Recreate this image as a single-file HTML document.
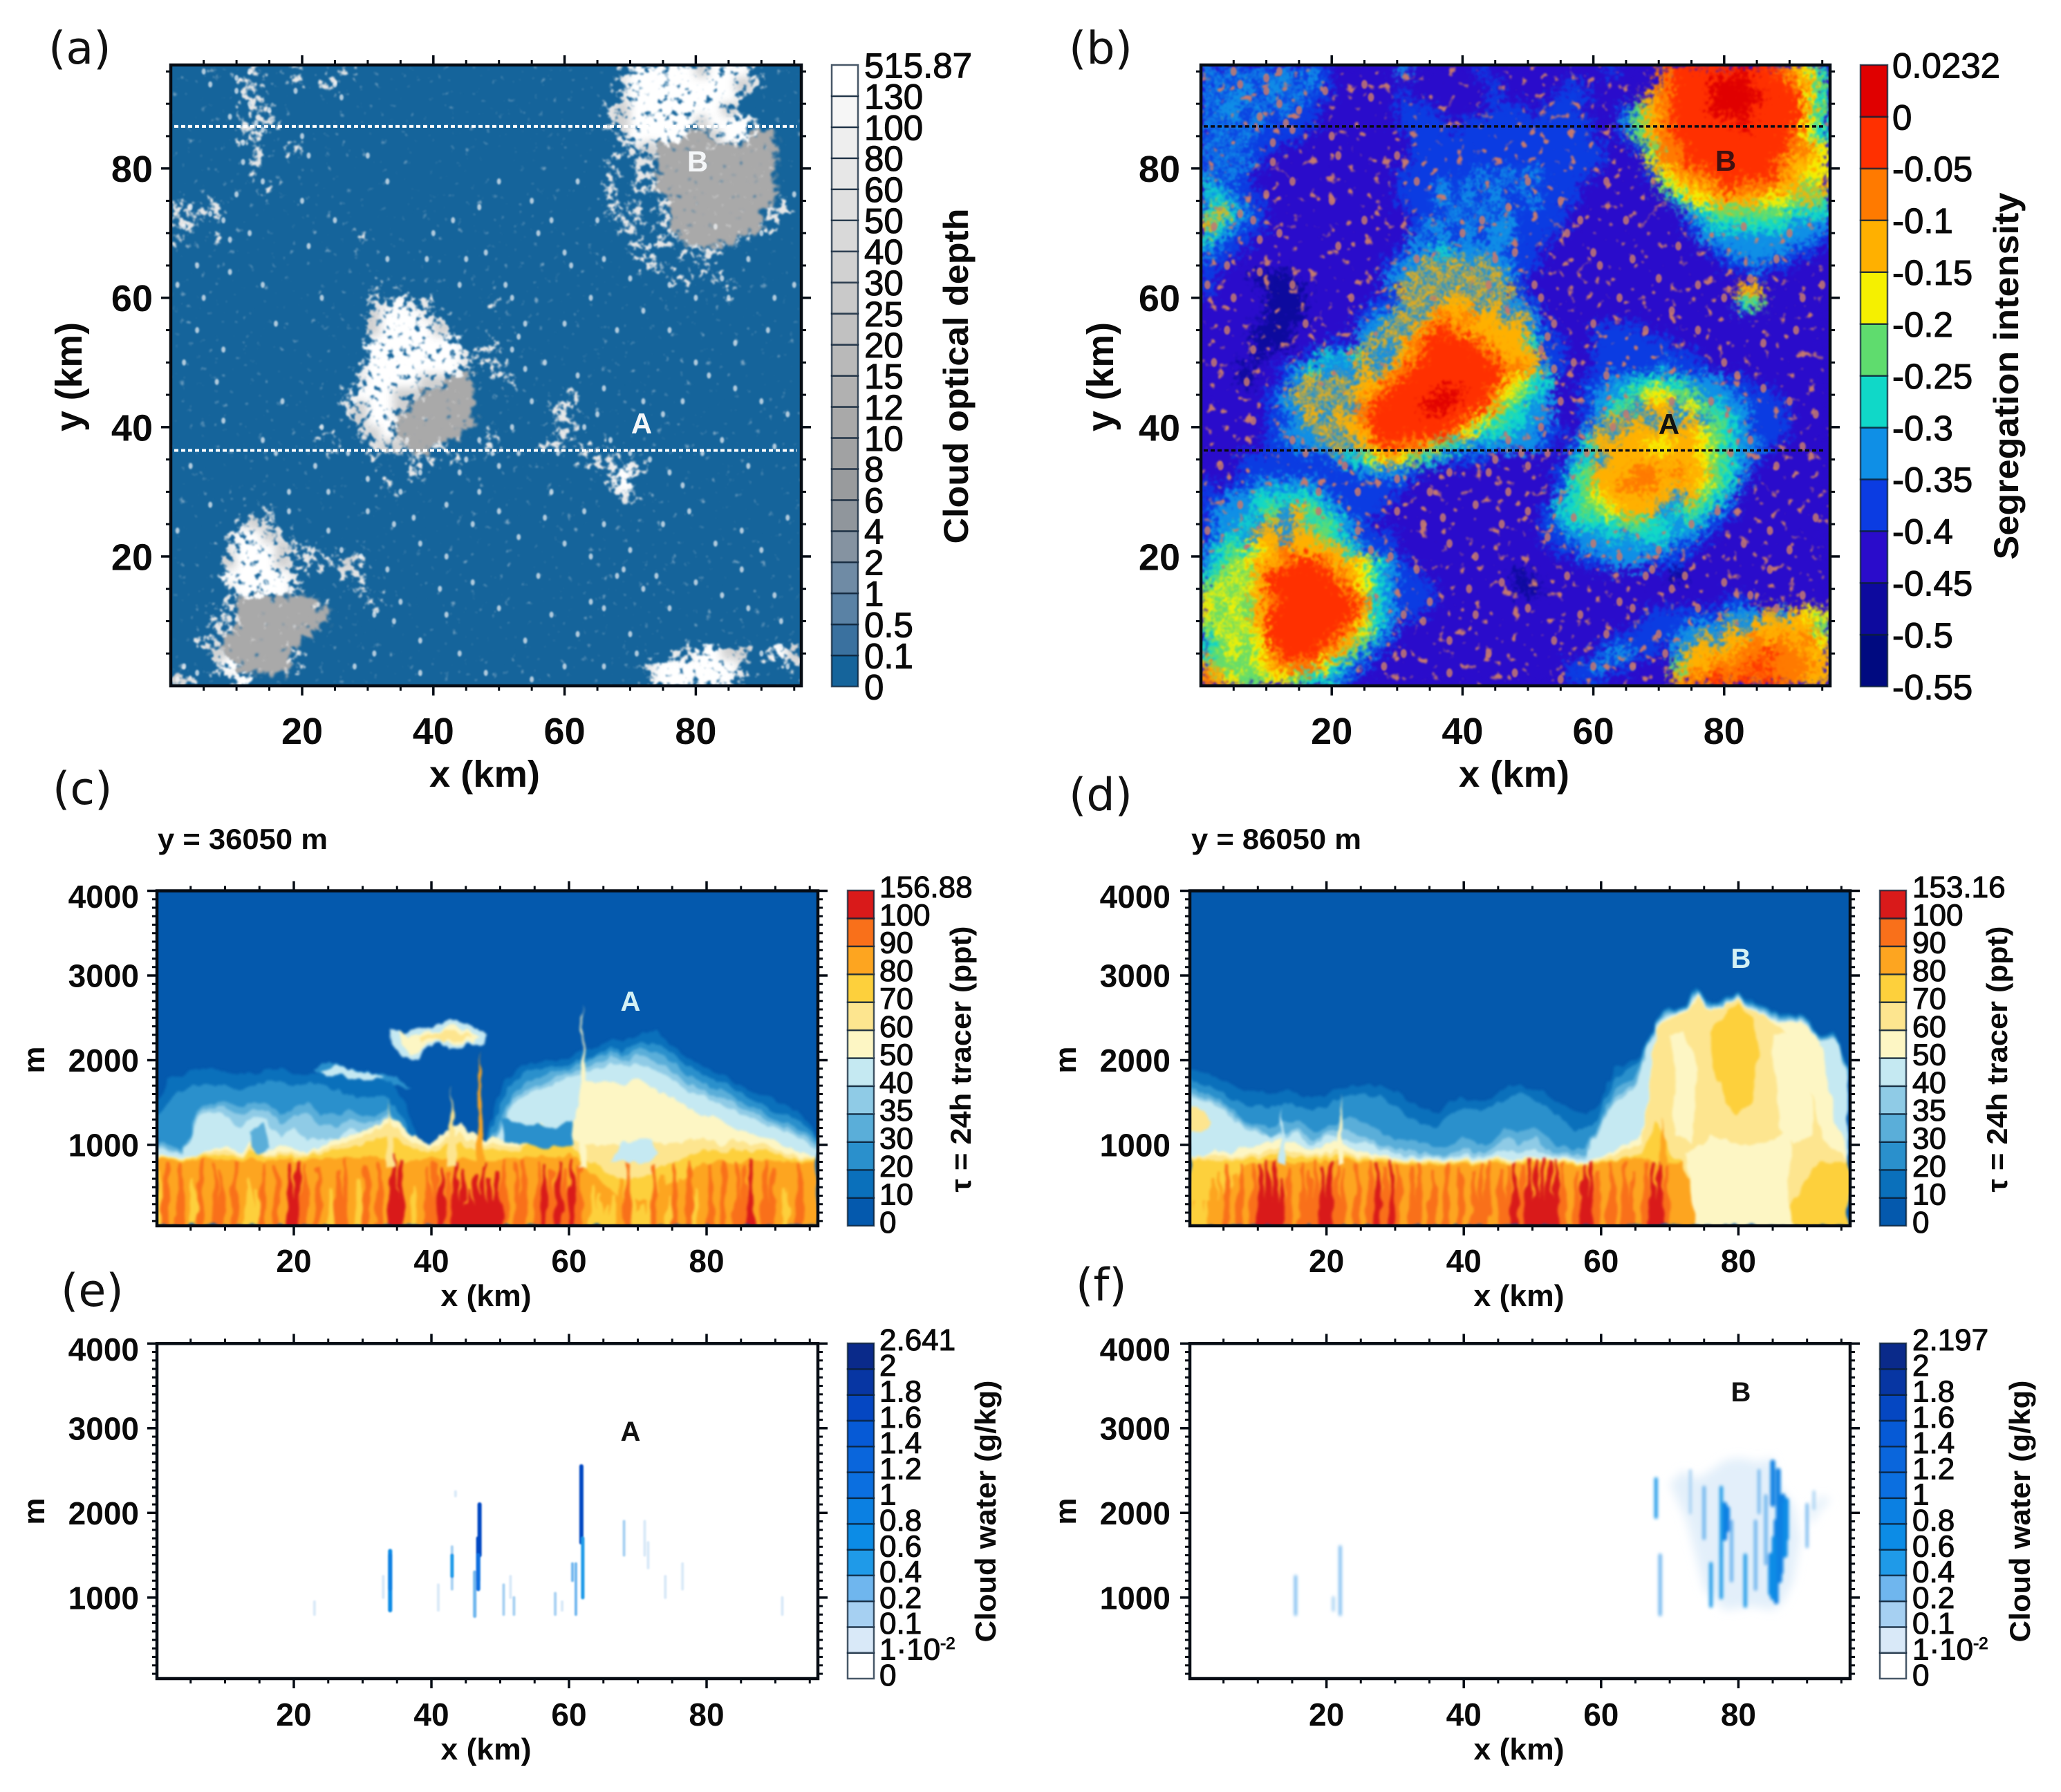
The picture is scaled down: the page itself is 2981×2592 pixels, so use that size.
<!DOCTYPE html>
<html lang="en">
<head>
<meta charset="utf-8">
<title>Cloud and tracer fields</title>
<style>
html,body{margin:0;padding:0;background:#fff;}
svg{display:block;}
text{font-family:"Liberation Sans",sans-serif;fill:#0a0a0a;}
.pl{font-family:"DejaVu Sans",sans-serif;font-size:65px;fill:#111;}
.ax{font-weight:bold;}
</style>
</head>
<body>
<svg id="fig" xmlns="http://www.w3.org/2000/svg" width="2981" height="2592" viewBox="0 0 2981 2592">
<defs>
<filter id="speckleA" filterUnits="userSpaceOnUse" x="200" y="50" width="1010" height="990" color-interpolation-filters="sRGB">
  <feGaussianBlur in="SourceGraphic" stdDeviation="6" result="b"/>
  <feTurbulence type="fractalNoise" baseFrequency="0.1" numOctaves="3" seed="7" result="n"/>
  <feColorMatrix in="n" type="matrix" values="0 0 0 0 0 0 0 0 0 0 0 0 0 0 0 1 0 0 0 0" result="na"/>
  <feComposite in="b" in2="na" operator="arithmetic" k1="0" k2="0.5" k3="1" k4="-0.74" result="m"/>
  <feComponentTransfer in="m" result="mask"><feFuncA type="linear" slope="6"/></feComponentTransfer>
  <feComponentTransfer in="b" result="full"><feFuncA type="linear" slope="6"/></feComponentTransfer>
  <feComposite in="full" in2="mask" operator="in" result="c"/>
  <feGaussianBlur in="c" stdDeviation="1.3"/>
</filter>
<filter id="solidA" filterUnits="userSpaceOnUse" x="200" y="50" width="1010" height="990" color-interpolation-filters="sRGB">
  <feGaussianBlur in="SourceGraphic" stdDeviation="6" result="b"/>
  <feTurbulence type="fractalNoise" baseFrequency="0.09" numOctaves="3" seed="11" result="n"/>
  <feColorMatrix in="n" type="matrix" values="0 0 0 0 0 0 0 0 0 0 0 0 0 0 0 1 0 0 0 0" result="na"/>
  <feComposite in="b" in2="na" operator="arithmetic" k1="0" k2="0.62" k3="1" k4="-0.74" result="m"/>
  <feComponentTransfer in="m" result="mask"><feFuncA type="linear" slope="6"/></feComponentTransfer>
  <feComponentTransfer in="b" result="full"><feFuncA type="linear" slope="6"/></feComponentTransfer>
  <feComposite in="full" in2="mask" operator="in" result="c"/>
  <feGaussianBlur in="c" stdDeviation="1.5"/>
</filter>
<filter id="speckleB" filterUnits="userSpaceOnUse" x="1690" y="50" width="1010" height="990" color-interpolation-filters="sRGB">
  <feGaussianBlur in="SourceGraphic" stdDeviation="6" result="b"/>
  <feTurbulence type="fractalNoise" baseFrequency="0.075" numOctaves="2" seed="21" result="n"/>
  <feColorMatrix in="n" type="matrix" values="0 0 0 0 0 0 0 0 0 0 0 0 0 0 0 1 0 0 0 0" result="na"/>
  <feComposite in="b" in2="na" operator="arithmetic" k1="0" k2="0.45" k3="1" k4="-0.74" result="m"/>
  <feComponentTransfer in="m" result="mask"><feFuncA type="linear" slope="8"/></feComponentTransfer>
  <feComponentTransfer in="b" result="full"><feFuncA type="linear" slope="6"/></feComponentTransfer>
  <feComposite in="full" in2="mask" operator="in" result="c"/>
  <feGaussianBlur in="c" stdDeviation="1.2"/>
</filter>
<filter id="roughB" filterUnits="userSpaceOnUse" x="1690" y="50" width="1010" height="990" color-interpolation-filters="sRGB"><feGaussianBlur in="SourceGraphic" stdDeviation="5" result="b"/><feTurbulence type="fractalNoise" baseFrequency="0.14" numOctaves="3" seed="9" result="t"/><feDisplacementMap in="b" in2="t" scale="46" xChannelSelector="R" yChannelSelector="G" result="d"/><feGaussianBlur in="d" stdDeviation="1.2"/></filter>
<filter id="roughC" filterUnits="userSpaceOnUse" x="150" y="1240" width="2600" height="580" color-interpolation-filters="sRGB"><feTurbulence type="fractalNoise" baseFrequency="0.07 0.03" numOctaves="2" seed="3" result="t"/><feDisplacementMap in="SourceGraphic" in2="t" scale="14" xChannelSelector="R" yChannelSelector="G" result="d"/><feGaussianBlur in="d" stdDeviation="1.8"/></filter>
<filter id="soft"><feGaussianBlur stdDeviation="1.1"/></filter>
<filter id="softF" filterUnits="userSpaceOnUse" x="1700" y="1900" width="1000" height="560"><feGaussianBlur stdDeviation="2.4"/></filter>
<filter id="softEnv" filterUnits="userSpaceOnUse" x="1700" y="1900" width="1000" height="560"><feGaussianBlur stdDeviation="7"/></filter>
<clipPath id="clipA"><rect x="247" y="94" width="912" height="898"/></clipPath>
<clipPath id="clipB"><rect x="1737" y="94" width="910" height="898"/></clipPath>
<clipPath id="clipC"><rect x="227" y="1288" width="956" height="485"/></clipPath>
<clipPath id="clipD"><rect x="1721" y="1288" width="955" height="485"/></clipPath>
<clipPath id="clipE"><rect x="227" y="1943" width="956" height="485"/></clipPath>
<clipPath id="clipF"><rect x="1721" y="1943" width="955" height="485"/></clipPath>
</defs>
<rect x="0" y="0" width="2981" height="2592" fill="#fff"/>

<g id="panelA"></g>
<g id="panelB"></g>
<g id="panelC"></g>
<g id="panelD"></g>
<g id="panelE"></g>
<g id="panelF"></g>

<text class="pl" x="70" y="92">(a)</text>
<text class="pl" x="1546" y="92">(b)</text>
<text class="pl" x="76" y="1163">(c)</text>
<text class="pl" x="1546" y="1172">(d)</text>
<text class="pl" x="88" y="1889">(e)</text>
<text class="pl" x="1556" y="1881">(f)</text>

<text class="ax" x="228" y="1228" font-size="42" textLength="246" lengthAdjust="spacingAndGlyphs">y = 36050 m</text>
<text class="ax" x="1723" y="1228" font-size="42" textLength="246" lengthAdjust="spacingAndGlyphs">y = 86050 m</text>

<text class="ax" x="701" y="1138" font-size="54" text-anchor="middle" textLength="160" lengthAdjust="spacingAndGlyphs">x (km)</text>
<text class="ax" x="2190" y="1138" font-size="54" text-anchor="middle" textLength="160" lengthAdjust="spacingAndGlyphs">x (km)</text>
<text class="ax" x="703" y="1889" font-size="44" text-anchor="middle" textLength="131" lengthAdjust="spacingAndGlyphs">x (km)</text>
<text class="ax" x="2197" y="1889" font-size="44" text-anchor="middle" textLength="131" lengthAdjust="spacingAndGlyphs">x (km)</text>
<text class="ax" x="703" y="2545" font-size="44" text-anchor="middle" textLength="131" lengthAdjust="spacingAndGlyphs">x (km)</text>
<text class="ax" x="2197" y="2545" font-size="44" text-anchor="middle" textLength="131" lengthAdjust="spacingAndGlyphs">x (km)</text>

<text class="ax" transform="translate(118,545) rotate(-90)" font-size="54" text-anchor="middle" textLength="158" lengthAdjust="spacingAndGlyphs">y (km)</text>
<text class="ax" transform="translate(1610,545) rotate(-90)" font-size="54" text-anchor="middle" textLength="158" lengthAdjust="spacingAndGlyphs">y (km)</text>
<text class="ax" transform="translate(64,1533) rotate(-90)" font-size="44" text-anchor="middle">m</text>
<text class="ax" transform="translate(1556,1533) rotate(-90)" font-size="44" text-anchor="middle">m</text>
<text class="ax" transform="translate(64,2186) rotate(-90)" font-size="44" text-anchor="middle">m</text>
<text class="ax" transform="translate(1556,2186) rotate(-90)" font-size="44" text-anchor="middle">m</text>

<text class="ax" transform="translate(1400,544) rotate(-90)" font-size="50" text-anchor="middle" textLength="485" lengthAdjust="spacingAndGlyphs">Cloud optical depth</text>
<text class="ax" transform="translate(2919,544) rotate(-90)" font-size="50" text-anchor="middle" textLength="531" lengthAdjust="spacingAndGlyphs">Segregation intensity</text>
<text class="ax" transform="translate(1404,1532) rotate(-90)" font-size="42" text-anchor="middle" textLength="385" lengthAdjust="spacingAndGlyphs">τ = 24h tracer (ppt)</text>
<text class="ax" transform="translate(2903,1532) rotate(-90)" font-size="42" text-anchor="middle" textLength="385" lengthAdjust="spacingAndGlyphs">τ = 24h tracer (ppt)</text>
<text class="ax" transform="translate(1440,2186) rotate(-90)" font-size="42" text-anchor="middle" textLength="379" lengthAdjust="spacingAndGlyphs">Cloud water (g/kg)</text>
<text class="ax" transform="translate(2936,2186) rotate(-90)" font-size="42" text-anchor="middle" textLength="379" lengthAdjust="spacingAndGlyphs">Cloud water (g/kg)</text>

<g id="overlay">
<text class="ax" x="928" y="627" font-size="42" text-anchor="middle" style="fill:#f4f6f8">A</text>
<text class="ax" x="1009" y="248" font-size="42" text-anchor="middle" style="fill:#f4f6f8">B</text>
<text class="ax" x="2414" y="628" font-size="42" text-anchor="middle" style="fill:#111">A</text>
<text class="ax" x="2496" y="247" font-size="42" text-anchor="middle" style="fill:#401010">B</text>
<text class="ax" x="912" y="1462" font-size="40" text-anchor="middle" style="fill:#d4f1f4">A</text>
<text class="ax" x="2518" y="1400" font-size="40" text-anchor="middle" style="fill:#d4f1f4">B</text>
<text class="ax" x="912" y="2084" font-size="40" text-anchor="middle" style="fill:#111">A</text>
<text class="ax" x="2518" y="2027" font-size="40" text-anchor="middle" style="fill:#111">B</text>
</g>
</svg>

<script>
// ---------- colour scales and tick labels ----------
const tauLevels=[0,0.1,0.5,1,2,4,6,8,10,12,15,20,25,30,40,50,60,80,100,130];
const tauColors=['#15649b','#3a719f','#5a82a5','#6f8ba5','#8593a1','#90969c','#999b9d','#a1a2a3','#a9a9a9','#b1b1b1','#b9b9b9','#c1c1c1','#c9c9c9','#d1d1d1','#d9d9d9','#e0e0e0','#e7e7e7','#eeeeee','#f6f6f6','#ffffff'];
const tauLabels=['0','0.1','0.5','1','2','4','6','8','10','12','15','20','25','30','40','50','60','80','100','130','515.87'];
const segColors=['#000a80','#0d0a9e','#2a0ccb','#0b3ce2','#0f8fe6','#10d8c8','#5fdc6e','#f5f000','#ffb000','#ff7a00','#ff3000','#e00000'];
const segLabels=['-0.55','-0.5','-0.45','-0.4','-0.35','-0.3','-0.25','-0.2','-0.15','-0.1','-0.05','0','0.0232'];
const tracerLevels=[0,10,20,30,35,40,50,60,70,80,90,100];
const tracerColors=['#0459ad','#0a70bb','#2a90cc','#5aaed9','#8fcbe6','#c5e9f2','#fdf6c4','#fde58f','#fdd03c','#fda520','#f9701a','#d91a1a'];
const tracerLabelsC=['0','10','20','30','35','40','50','60','70','80','90','100','156.88'];
const tracerLabelsD=['0','10','20','30','35','40','50','60','70','80','90','100','153.16'];
const waterLevels=[0,0.01,0.1,0.2,0.4,0.6,0.8,1,1.2,1.4,1.6,1.8,2];
const waterColors=['#ffffff','#d9e9f8','#a6d0f2','#6fb6ee','#1f9ae8','#0c8ce6','#0b80e2','#0b6fe0','#0a66dc','#065ad6','#0547c2','#0736a3','#0a2a8a'];
const waterLabelsE=['0','1·10','0.1','0.2','0.4','0.6','0.8','1','1.2','1.4','1.6','1.8','2','2.641'];
const waterLabelsF=['0','1·10','0.1','0.2','0.4','0.6','0.8','1','1.2','1.4','1.6','1.8','2','2.197'];
const kmTicks=[20,40,60,80];
const heightTicks=[1000,2000,3000,4000];
const sliceLatitudes=[36.4,86.5];

// ---------- panel (a): optical depth class per 2 km cell, top row y=95 km ----------
// class 0 clear, 1 scattered cumulus, 2 grey anvil, 3 bright, 4 brightest
const cloudClassTau=[0,60,10,30,130];
const cloudRows=[
"000100100100|010000000000|000000000014|444434441000",
"000001100101|100000000000|000000000014|444444431000",
"000001100000|000000000000|000000000014|444444410000",
"000000110000|000000000000|000000000134|444444300000",
"000001110000|000000000000|000000000134|444434441000",
"000001100000|000000000000|000000000014|444223442200",
"000000100100|000000000000|000000000011|322222222200",
"000000100000|000000000000|000000000101|122222222200",
"000000100000|000000000000|000000000101|122222222200",
"000000010000|000000000000|000000000101|122222222200",
"100100000000|000000000000|000000000101|012222222210",
"111100000000|000000000000|000000000111|012222222110",
"110000000000|000000000000|000000000011|012222222100",
"100100000000|001000000000|000000000001|011222210000",
"000000000000|000000000000|000000000001|100111000000",
"000000000000|000000000000|000000000000|110010000000",
"000000000000|000000000000|000000000000|001101000000",
"000000000000|000101000000|000000000000|000000100000",
"000000000000|000114110000|100000000000|000000000000",
"000000000000|000344411000|000000000000|000000000000",
"000000000000|000344443000|000000000000|000000000000",
"000000000000|000444444400|100000000000|000000000000",
"000000000000|000444444411|100000000000|000000000000",
"000000000000|001444444410|110000000000|000000000000",
"000000000000|001444433220|010000000000|000000000000",
"000000000000|014443322220|000000100000|000000000000",
"000000000000|013443222220|000001100000|000000000000",
"000000000000|003442222220|000001100000|000000000000",
"000000000001|001342222200|100001100000|000000000000",
"000000000000|100133221000|100011010100|000000000000",
"000000000000|000100110100|000000011101|000000000000",
"000000000000|000000100000|000000000141|000000000000",
"000000000000|000010000000|000000000140|000000000000",
"000000000000|000000000000|000000000011|000000000000",
"000000010000|000000000000|000000000000|000000000000",
"000001310000|000000000000|000000000000|000000000000",
"000014431000|000000000000|000000000000|000000000000",
"000014443110|000000000000|000000000000|000000000000",
"000034443111|131000000000|000000000000|000000000000",
"000044444100|011000000000|000000000000|000000000000",
"000014444100|001000000000|000000000000|000000000000",
"000012222221|000100000000|000000000000|000000000000",
"000112222222|000000000000|000000000000|000000000000",
"000112222220|000000000000|000000000000|000000000000",
"001122222200|000000000000|000000000000|000000000000",
"000322222100|000000000000|000000000000|001144330143",
"000142222100|000000000000|000000000000|144444410001",
"310014000000|000000000000|000000000000|144444410000"];

// small cumulus positions in km, shared by panels (a) and (b)
const speckX=[6,10,12,13,11,10,15,19,25,26,12,5,9,14,20,21,11,14,10,3,6,2,8,12,9,21,20,4,1,5,14,23,16,8,2,25,30,33,40,39,33,44,48,52,51,55,50,58,62,56,60,65,66,70,73,76,80,84,85,88,90,92,95,91,86,80,76,72,68,64,60,57,62,66,65,63,67,70,73,76,78,81,84,88,92,94,90,86,75,72,55,52,53,50,47,44,42,38,35,30,27,24,22,18,18,14,8,3,6,1,30,34,38,42,46,50,53,56,60,63,58,66,70,75,79,83,87,90,94,92,88,84,80,76,72,66,62,58,54,50,46,42,38,35,33,31,28,38,44,48,55,60,66,70,2,1,4,93,90,94,31,34,29,26,47,49,45,52,54,53,7,17,23,28,36,43,47,54,59,64,69,74,78,82,87,93,4,9,16,24,41,57,61,68,83,95,37,45,64,71];
const speckY=[93,92,90,87,84,94,89,92,93,91,95,95,88,86,85,82,81,78,76,74,73,71,72,70,69,68,75,65,62,60,62,60,56,52,50,72,82,78,70,66,66,62,67,60,62,75,78,72,78,70,67,72,66,63,68,62,60,63,60,66,70,60,62,55,53,50,55,58,55,60,56,50,48,46,42,40,38,36,35,33,31,36,38,34,37,42,44,46,42,44,44,40,36,34,30,33,28,33,30,32,36,30,34,30,27,38,41,34,28,24,27,25,22,20,25,27,23,17,22,27,30,25,21,25,27,22,18,21,26,14,12,14,16,12,15,12,8,11,7,12,16,11,7,13,18,5,3,2,5,2,1,3,3,8,3,1,2,6,5,3,11,10,20,21,38,36,35,52,49,54,47,44,40,44,38,72,74,56,36,20,18,17,44,48,24,10,55,64,36,24,15,26,65,17,71,76,26,66,13,5];

// ---------- panel (b): segregation class (hex) per 2 km cell, top row y=95 km ----------
const segRows=[
"434343434322|222422222322|222222232229|aaaaabaa9875",
"343434434322|222222222232|222232222229|aaabbbaaa986",
"434434343322|222322222232|222333222289|aaabbbbaaa75",
"344343433222|222333222233|323332223689|aaabbbaaaa86",
"434343333222|222333323333|333333224689|aaaaabaaaa75",
"343433332222|222233333333|333333223689|aaaaaaaaa975",
"434333222222|222233333333|333333322369|9aaaaaaaa997",
"343432222222|222233333333|333333322279|9aaaaaaa9887",
"434322222222|222333333434|343333222237|899aaaaa9877",
"543322222222|222333434343|433332222226|7889a9998868",
"454332222222|222333434343|343332222222|577888877686",
"585432222222|222233343434|333322222222|245666666555",
"854332222222|222234434344|333322222222|234555555444",
"543322222222|222243434344|333222222222|224444444443",
"433222222222|222344544443|332222222222|222344444332",
"332222222222|223448484844|332222222222|222233433222",
"322211122222|224484848484|322222222222|222222322222",
"322221112222|223848484848|322222222222|222228822222",
"222221112222|233484888484|432222222222|222225622222",
"222221112222|344848989884|842222222222|222222222222",
"222211122222|448489a98888|843222333322|222222222222",
"222211122232|48489aaaa988|853322333333|222222222222",
"222212223545|84489aaaaa98|883322333333|332222222222",
"222122345444|8489aaaaaaa9|984322333334|333222222222",
"222122348484|889aaaaaaaa8|755223344555|544433222222",
"222223484848|89aaaabbaa97|654223445677|664443332222",
"222223448484|9aaaabbaaa86|544223456488|476544333222",
"222223348488|9aaaaaaa9765|544223484848|484654333222",
"222223444848|8aaaaaa97555|443324848888|887654333222",
"222223344484|89a998654444|443235888877|887654432222",
"222333333345|578765433322|222245488888|887654322222",
"222333333333|444432222222|222356888998|988654222222",
"323344444333|333322222222|222356889998|887653222222",
"334455555433|333222222222|222456788888|486542222222",
"344456486543|332222222222|223556678884|565432222222",
"344548485654|322222222222|223455556655|454322222222",
"345488488654|333222222222|223344454555|443222222222",
"456578988885|433222222222|222334444444|332222222222",
"4567889aa988|754322222222|222223344433|322222222222",
"56768aaaaa98|754332222222|122222222222|122222222222",
"67678aaaaaa9|754333222222|112222222222|222222222222",
"767689aaaaaa|954333222222|222222222222|222233222222",
"76768aaaaaaa|854332222222|222222222233|333344484877",
"67678aaaaaa9|754222222222|222222222333|344484888886",
"56767aaaaa98|643222222222|222222233333|448488989897",
"567679aaa986|432222222222|222222344332|4888899a9988",
"866678999754|322222222222|222233433222|688999a99998",
"987667765543|222222222222|222233322222|899a9a9a9988"];

// ---------- panel (c): contour tops (m) at x = 0,2,...,96 km ----------
const cTop10=[1500,1800,1850,1900,1900,1880,1820,1850,1880,1900,1850,1830,1850,1900,1900,1850,1800,1750,1500,1100,1000,1050,1200,1050,1050,1700,1850,1950,1980,2000,2020,2100,2150,2250,2200,2300,2350,2250,2100,2000,1900,1850,1750,1650,1600,1500,1450,1350,1150];
const cTop20=[1300,1550,1650,1700,1720,1700,1650,1700,1750,1750,1700,1720,1720,1650,1600,1550,1550,1550,1300,1000,950,950,1000,950,950,1500,1750,1880,1900,1920,1950,2020,2050,2150,2100,2200,2200,2150,2000,1900,1800,1750,1650,1550,1500,1400,1350,1250,1100];
const cTop30=[1050,1000,950,1400,1500,1500,1450,1500,1500,1350,1450,1500,1350,1350,1400,1350,1350,1450,1100,950,900,900,950,900,900,1300,1600,1750,1800,1850,1900,1980,2020,2100,2050,2120,2100,2050,1900,1800,1700,1650,1550,1450,1400,1300,1250,1150,1050];
const cTop35=[1000,950,920,1350,1450,1450,1350,1400,1400,1250,1350,1350,1250,1200,1300,1250,1300,1400,1050,920,880,880,900,880,880,1200,1550,1650,1700,1780,1850,1920,1950,2050,1980,2050,2000,1950,1800,1700,1620,1550,1500,1380,1320,1250,1200,1100,1000];
const cTop40=[950,920,900,1300,1400,1350,1200,1300,1300,1100,1200,1050,1100,1050,1200,1150,1250,1350,1000,900,860,860,880,860,860,1150,1500,1600,1650,1720,1800,1880,1900,1980,1920,1980,1900,1850,1700,1620,1550,1480,1420,1300,1250,1200,1150,1050,950];
const cTop50=[860,860,850,880,950,1000,900,1050,900,1000,950,900,1000,1050,1100,1150,1250,1350,1200,1100,1000,1150,1250,1150,1050,1100,1050,1150,1250,1100,1100,1750,1750,1750,1700,1800,1680,1600,1500,1400,1350,1300,1200,1150,1100,1050,950,900,850];
const cTop60=[840,850,830,880,920,950,860,980,860,920,900,880,950,1000,1050,1080,1200,1250,1100,1020,950,1080,1150,1050,1000,1030,980,1050,1150,1020,1100,1000,1000,1000,1000,1000,1000,1020,1020,1050,1080,1000,1050,1000,1020,950,900,860,840];
const cTop70=[830,840,820,860,880,880,840,920,840,880,860,860,900,950,980,1000,1100,1100,1000,950,900,1000,1050,950,950,950,920,980,1050,980,1000,850,800,650,600,600,650,800,800,900,950,900,950,900,950,900,860,830,820];
const cTop80=[820,820,800,830,840,820,810,840,810,830,820,820,830,850,850,860,860,850,800,820,830,850,830,820,830,830,830,860,880,850,900,800,600,450,350,350,350,550,550,700,780,800,780,820,830,800,830,800,800];
// stripes in the mixed layer, one per km
const cStripeValue=[75,90,85,95,85,75,95,85,95,90,85,95,85,75,70,95,85,90,85,105,105,95,85,90,85,75,90,95,85,75,90,85,95,85,105,105,85,75,85,90,95,105,95,105,105,110,110,110,110,105,95,85,90,95,85,95,105,95,105,95,105,95,85,75,75,70,75,85,95,75,70,75,95,85,75,95,85,95,75,85,95,85,95,85,95,95,105,85,95,90,85,75,85,95,85,80];
const cStripeTop=[700,780,650,800,700,600,820,650,790,700,680,810,700,600,500,800,680,750,700,780,820,780,650,720,640,500,700,830,680,600,760,650,800,720,900,850,650,500,600,720,780,760,680,800,700,500,650,800,600,700,820,640,780,830,650,810,780,700,820,750,830,770,600,500,400,300,400,600,780,500,300,400,780,650,400,790,600,810,500,700,790,600,800,680,820,760,830,640,800,720,690,500,680,810,700,620];
// convective towers
const cSpikeX=[34,43,47,62];
const cSpikeTop=[1550,1700,2150,2650];
const cSpikeValue=[65,60,80,55];
// detached layers
const cPlumeOuterX=[34,36,38,40,42,43.5,45,47,48,47.5,45,43,41,39,37.5,36,34.5];
const cPlumeOuterZ=[2370,2300,2400,2380,2450,2470,2400,2380,2280,2200,2170,2140,2200,2130,2000,2030,2200];
const cPlumeMidX=[35,37,39,41,43,45,47,46,43,41,38.5,37,35.5];
const cPlumeMidZ=[2330,2280,2350,2340,2410,2340,2300,2200,2190,2240,2150,2050,2160];
const cPlumeCoreX=[38,40,42,44,46,45,42,40,38.5];
const cPlumeCoreZ=[2280,2310,2340,2330,2280,2240,2220,2260,2220];
const cLayerFringeX=[23,25,28,31,33,35,37,33,30,27,24.5];
const cLayerFringeZ=[1880,2000,1900,1880,1850,1800,1650,1720,1740,1800,1830];
const cLayerPaleX=[24,26,29,32,33,30,27,25];
const cLayerPaleZ=[1870,1950,1880,1860,1810,1770,1830,1830];
const cPatchMidX=[50,54,58,60.5,60.5,57,53,51];
const cPatchMidZ=[1300,1250,1200,1280,1000,950,1000,1050];
const cPatchHoleX=[13.5,15.5,16.5,14.5];
const cPatchHoleZ=[1150,1250,950,900];
const cPatchPaleX=[66,68,70,72,73,71,68];
const cPatchPaleZ=[820,1040,1060,1040,880,800,790];
const cPatchRedX=[43,44,46,47,48,49,50,50.5,43];
const cPatchRedZ=[60,280,200,420,300,330,450,60,60];

// ---------- panel (d) ----------
const dTop10=[1880,1850,1800,1720,1650,1620,1600,1650,1600,1560,1600,1660,1720,1700,1700,1620,1520,1420,1360,1500,1560,1500,1560,1680,1720,1650,1600,1500,1400,1360,1500,1900,1980,2050,2500,2620,2660,2870,2700,2720,2810,2700,2620,2560,2550,2500,2280,2350,1880];
const dTop20=[1780,1700,1650,1550,1480,1450,1450,1500,1450,1400,1450,1550,1620,1600,1550,1450,1350,1250,1200,1350,1450,1400,1450,1550,1620,1550,1450,1300,1180,1200,1400,1800,1900,2000,2480,2600,2640,2840,2680,2700,2780,2680,2600,2540,2520,2480,2260,2320,1850];
const dTop30=[1700,1620,1550,1450,1300,1250,1200,1280,1300,1150,1200,1280,1300,1250,1150,1080,1050,1000,950,1000,1100,1000,1050,1200,1150,1200,1100,1000,950,950,1300,1650,1750,1950,2460,2580,2620,2810,2660,2680,2760,2660,2580,2520,2500,2460,2240,2300,1820];
const dTop35=[1650,1580,1500,1400,1250,1200,1100,1150,1200,1050,1150,1200,1150,1050,1000,950,950,900,880,900,950,900,950,1100,1000,1100,950,900,880,900,1250,1550,1650,1900,2440,2560,2600,2790,2640,2660,2740,2640,2560,2500,2480,2440,2220,2280,1800];
const dTop40=[1600,1550,1450,1350,1200,1150,1100,1100,1150,1000,1100,1100,1050,1000,950,900,880,860,860,860,880,860,880,950,900,950,880,860,840,880,1200,1500,1600,1850,2420,2540,2590,2770,2620,2650,2720,2620,2540,2480,2460,2420,2210,2260,1780];
const dTop50=[860,860,950,900,950,1000,1050,1050,1000,950,1000,1050,950,900,880,850,840,830,830,830,830,830,830,840,830,840,830,830,820,830,850,950,1000,1100,2380,2520,2570,2750,2600,2640,2700,2600,2520,2460,2450,2400,2200,1300,850];
const dTop60=[850,850,900,860,880,900,950,950,900,880,900,950,880,860,850,830,820,810,810,810,810,810,810,820,810,820,810,810,800,810,830,900,950,1000,2360,2500,2550,2730,2590,2630,2690,2590,2510,2400,2200,1800,1100,950,830];
const dTop70=[820,820,830,830,850,850,880,880,860,840,860,880,840,830,830,810,800,790,790,790,790,790,790,800,790,800,790,790,790,800,810,830,850,900,1300,900,800,100,0,0,0,0,0,0,300,600,800,800,800];
const dTop80=[300,350,350,500,780,790,800,810,790,800,810,830,810,800,800,790,780,770,770,770,770,770,770,780,770,780,770,770,770,780,790,810,830,850,780,800,800,0,0,0,0,0,0,0,0,0,0,0,0];
const dStripeValue=[75,75,75,85,85,95,85,95,85,95,105,110,110,105,95,85,95,90,95,105,105,95,90,85,95,85,95,105,95,100,95,85,90,95,85,90,85,95,85,90,85,90,95,95,85,90,95,105,95,105,110,110,105,110,95,85,90,105,110,90,85,95,85,95,90,85,95,110,105,95,85,85,85];
const dStripeTop=[400,500,350,600,700,780,650,800,700,790,800,820,780,600,750,620,780,700,810,760,830,800,700,640,790,650,820,800,760,830,780,650,750,800,620,700,640,790,650,720,640,700,790,800,640,720,780,810,760,820,810,830,800,820,780,620,700,800,820,700,620,790,650,790,700,640,780,800,810,760,720,760,600];
const dSpikeX=[22,13.5,69];
const dSpikeTop=[1600,1450,1350];
const dSpikeValue=[55,45,80];
const dGoldX=[76,78,80,82,83,82,80,78,76.5];
const dGoldZ=[2300,2550,2650,2500,2100,1500,1350,1500,1900];
const dCreamX=[73.5,72.5,76,82,87,88,87,88,86,80];
const dCreamZ=[45,900,1100,1000,1150,900,500,45,45,45];
const dCreamLeftX=[70,72,74,73,71];
const dCreamLeftZ=[2300,2350,1900,1000,1100];
const dCreamRightX=[85,88,90,91,88,86];
const dCreamRightZ=[2300,2300,2200,1100,1000,1200];
const dBlobX=[0,0,2,3,2];
const dBlobZ=[1150,1480,1400,1250,1150];

// ---------- panels (e) and (f): cloud-water streaks ----------
const eStreakX=[34,34,33,43,43,46.3,46.8,47,46.8,61.8,62,61,60.5,68,71,71.5,74,76.5,50.5,52,51.5,58,59,41,23,91,43.5];
const eStreakBottom=[850,1100,1000,1100,1250,780,1200,1500,1100,1650,1000,800,1200,1500,1500,1350,1000,1100,800,800,1000,800,850,850,800,800,2200];
const eStreakTop=[1550,1500,1250,1600,1500,1300,1700,2100,1500,2550,1700,1400,1400,1900,1900,1650,1250,1400,1150,1000,1250,1050,950,1150,950,1000,2250];
const eStreakValue=[0.6,0.9,0.05,0.1,0.4,0.3,1.7,1.7,1.0,1.7,0.5,0.2,0.2,0.1,0.05,0.05,0.05,0.03,0.1,0.1,0.05,0.1,0.05,0.05,0.03,0.05,0.03];
const fStreakX=[68,68.6,85.5,85,86,86.5,85.8,87,85,78,77.5,75,73,76,77.5,79,81,82.5,84,83,90,91,15.5,22,21,85.2,86.2,86.8,84.7,78.4];
const fStreakBottom=[1950,800,950,1000,1200,1500,1800,1700,2100,1700,1500,1700,2000,900,1000,1200,900,1100,1400,2000,1600,2050,800,800,850,1000,1300,1500,1050,1800];
const fStreakTop=[2400,1500,1900,1500,1800,2200,2500,2150,2600,2100,2300,2300,2500,1400,1600,1900,1500,1900,2200,2500,2100,2250,1250,1600,1000,1700,1900,2100,1500,2050];
const fStreakValue=[0.4,0.3,0.8,0.9,0.8,0.9,0.9,0.7,0.8,0.9,0.4,0.3,0.15,0.5,0.4,0.3,0.4,0.3,0.3,0.2,0.2,0.1,0.2,0.2,0.1,0.7,0.8,0.7,0.6,0.8];
const fEnvelopeX=[70,72,74,76,78,80,83,85,86,88,89,88,86.5,85,82,78,75,72.5];
const fEnvelopeZ=[2350,2500,2400,2500,2620,2650,2600,2650,2300,2100,1700,1200,950,850,900,850,1100,1900];
const fEnvelope2X=[90,92,93.5,92,90.5];
const fEnvelope2Z=[2000,2200,2150,2050,1850];

// ---------- helpers ----------
const NS='http://www.w3.org/2000/svg';
function mk(parent,tag,props){
  const el=document.createElementNS(NS,tag);
  for(const k in props) el.setAttribute(k,props[k]);
  parent.appendChild(el);
  return el;
}
function levelIndex(levels,v){
  let i=0;
  for(let k=0;k<levels.length;k++){ if(v>=levels[k]) i=k; }
  return i;
}
function tauColor(v){ return tauColors[levelIndex(tauLevels,v)]; }
function tracerColor(v){ return tracerColors[levelIndex(tracerLevels,v)]; }
function waterColor(v){ return waterColors[levelIndex(waterLevels,v)]; }

function axes(g,cfg){
  const frameColor='#060c14';
  for(const side of ['bottom','top']){
    const yy=side==='bottom'?cfg.B:cfg.T, dir=side==='bottom'?1:-1;
    for(let k=5;k<96;k+=5){
      const major=k%20===0;
      const t=mk(g,'line',{x1:cfg.xs(k),x2:cfg.xs(k),y1:yy,y2:yy+dir*(major?cfg.majorLen:cfg.minorLen),stroke:frameColor,'stroke-width':major?3.5:3});
      
      
    }
  }
  for(const side of ['left','right']){
    const xx=side==='left'?cfg.L:cfg.R, dir=side==='left'?-1:1;
    for(const v of cfg.minorY){
      const t=mk(g,'line',{y1:cfg.ys(v),y2:cfg.ys(v),x1:xx,x2:xx+dir*cfg.minorLen,stroke:frameColor,'stroke-width':3});
      
      
    }
    for(const v of cfg.yTicks){
      const t=mk(g,'line',{y1:cfg.ys(v),y2:cfg.ys(v),x1:xx,x2:xx+dir*cfg.majorLen,stroke:frameColor,'stroke-width':3.5});
      
      
    }
  }
  const fr=mk(g,'rect',{x:cfg.L,y:cfg.T,width:cfg.R-cfg.L,height:cfg.B-cfg.T,fill:'none',stroke:frameColor,'stroke-width':4.5});
  
  
  for(const k of kmTicks){
    const t=mk(g,'text',{x:cfg.xs(k),y:cfg.xLabelY,'font-size':cfg.fs,'text-anchor':'middle','font-weight':'bold'});
    t.textContent=k;
    
    
  }
  for(const v of cfg.yTicks){
    const shift=(v===4000)?8:0;
    const t=mk(g,'text',{x:cfg.yLabelX,y:cfg.ys(v)+cfg.fs*0.36+shift,'font-size':cfg.fs,'text-anchor':'end','font-weight':'bold'});
    t.textContent=v;
    
    
  }
}

function colorbar(g,x0,x1,top,bottom,colors,labels,labelX,fs,labelShift,superscript){
  const n=colors.length, h=(bottom-top)/n;
  for(let i=0;i<n;i++){
    const yy=bottom-(i+1)*h;
    const r=mk(g,'rect',{x:x0,y:yy,width:x1-x0,height:h,fill:colors[i],stroke:'#0b2036','stroke-width':2.5,'stroke-opacity':0.75});
    
    
  }
  for(let i=0;i<labels.length;i++){
    const yy=bottom-i*h;
    const t=mk(g,'text',{x:labelX,y:yy+fs*0.36+labelShift,'font-size':fs,stroke:'#0a0a0a','stroke-width':1.1});
    t.textContent=labels[i];
    
    
    if(superscript && labels[i]==='1·10'){
      const s=mk(t,'tspan',{dy:-fs*0.35,'font-size':fs*0.55});
      s.textContent='-2';
    }
  }
}

// ---------- maps (a) and (b) ----------
const topCfgBase={T:94,B:992,majorLen:14,minorLen:7,fs:54,xLabelY:1076,ys:v=>992-9.354*v,yTicks:kmTicks,minorY:[5,10,15,25,30,35,45,50,55,65,70,75,85,90,95]};

(function(){
  const g=document.getElementById('panelA');
  const cfg=Object.assign({},topCfgBase,{L:247,R:1159,xs:k=>247.2+9.49*k,yLabelX:221});
  const clip=mk(g,'g',{'clip-path':'url(#clipA)'});
  
  
  const bg=mk(clip,'rect',{x:cfg.L,y:cfg.T,width:cfg.R-cfg.L,height:cfg.B-cfg.T,fill:tauColors[0]});
  
  
  const anvil=mk(clip,'g',{filter:'url(#solidA)'});
  const bright=mk(clip,'g',{filter:'url(#speckleA)'});
  const haze=mk(bright,'rect',{x:cfg.L-30,y:cfg.T-30,width:cfg.R-cfg.L+60,height:cfg.B-cfg.T+60,fill:'#f2f5f8','fill-opacity':0.08});
  
  
  cloudRows.forEach((row,j)=>{
    const s=row.replace(/\|/g,'');
    for(let i=0;i<s.length;i++){
      const cls=+s[i];
      if(!cls) continue;
      const km=2*i, yk=96-2*j;
      const c=mk(cls===2?anvil:bright,'rect',{x:cfg.xs(km)-1,y:cfg.ys(yk)-1,width:21,height:21,fill:tauColor(cloudClassTau[cls]),'fill-opacity':cls===1?0.55:1});
      
      
    }
  });
  const specks=mk(clip,'g',{filter:'url(#soft)'});
  speckX.forEach((k,i)=>{
    const e=mk(specks,'ellipse',{cx:cfg.xs(k),cy:cfg.ys(speckY[i]),rx:3,ry:4.5,fill:'#f4f7fa','fill-opacity':0.7});
    
    
  });
  sliceLatitudes.forEach(v=>{
    const l=mk(clip,'line',{x1:252,x2:1153,y1:cfg.ys(v),y2:cfg.ys(v),stroke:'#ffffff','stroke-width':4,'stroke-dasharray':'6 4'});
    
    
  });
  axes(g,cfg);
  colorbar(g,1203,1241,94,993,tauColors,tauLabels,1250,51,0,false);
})();

(function(){
  const g=document.getElementById('panelB');
  const cfg=Object.assign({},topCfgBase,{L:1737,R:2647,xs:k=>1737+9.46*k,yLabelX:1707});
  const clip=mk(g,'g',{'clip-path':'url(#clipB)'});
  
  
  const bg=mk(clip,'rect',{x:cfg.L,y:cfg.T,width:cfg.R-cfg.L,height:cfg.B-cfg.T,fill:segColors[2]});
  
  
  const field=mk(clip,'g',{filter:'url(#roughB)'});
  const mottle=mk(clip,'g',{filter:'url(#speckleB)'});
  const grid=segRows.map(r=>r.replace(/\|/g,''));
  grid.forEach((s,j)=>{
    for(let i=0;i<s.length;i++){
      const km=2*i, yk=96-2*j;
      const lev=parseInt(s[i],16);
      const c=mk(field,'rect',{x:cfg.xs(km)-1,y:cfg.ys(yk)-1,width:21,height:21,fill:segColors[lev]});
      
      
      if(lev<6){
        const m=mk(mottle,'rect',{x:cfg.xs(km)-1,y:cfg.ys(yk)-1,width:21,height:21,fill:'#c4786e','fill-opacity':0.2});
        
        
      }
    }
  });
  const specks=mk(clip,'g',{filter:'url(#soft)'});
  speckX.forEach((k,i)=>{
    const row=grid[Math.max(0,Math.min(47,Math.floor((96-speckY[i])/2)))];
    const lev=parseInt(row[Math.max(0,Math.min(47,Math.floor(k/2)))],16);
    if(lev>=6) return;
    const e=mk(specks,'ellipse',{cx:cfg.xs(k),cy:cfg.ys(speckY[i]),rx:4.5,ry:6.5,fill:'#c4786e','fill-opacity':0.85});
    
    
  });
  sliceLatitudes.forEach(v=>{
    const l=mk(clip,'line',{x1:1741,x2:2641,y1:cfg.ys(v),y2:cfg.ys(v),stroke:'#0a0a14','stroke-width':3.5,'stroke-dasharray':'6 4'});
    
    
  });
  axes(g,cfg);
  colorbar(g,2691,2730,94,993,segColors,segLabels,2737,51,0,false);
})();

// ---------- sections (c)-(f) ----------
const minorZ=[];
for(let z=100;z<4000;z+=100){ if(z%1000!==0) minorZ.push(z); }

function polyPoints(cfg,xs,zs){
  return xs.map((k,i)=>cfg.xs(k)+','+cfg.ys(zs[i])).join(' ');
}
function drawPatch(group,cfg,xs,zs,value){
  const p=mk(group,'polygon',{points:polyPoints(cfg,xs,zs),fill:tracerColor(value)});
  
  
}
function drawLayer(group,cfg,tops,value){
  const xs=[0],zs=[45];
  tops.forEach((z,i)=>{ xs.push(2*i); zs.push(Math.max(45,z)); });
  xs.push(96); zs.push(45);
  const p=mk(group,'polygon',{points:polyPoints(cfg,xs,zs),fill:tracerColor(value)});
  
  
}
function drawStripes(group,cfg,values,tops){
  values.forEach((v,i)=>{
    const km=i+0.5;
    const pts=polyPoints(cfg,[km-0.7,km-0.2,km+0.2,km+0.7],[45,tops[i],tops[i],45]);
    const p=mk(group,'polygon',{points:pts,fill:tracerColor(v)});
    
    
  });
}
function drawSpikes(group,cfg,xs,tops,values){
  xs.forEach((k,i)=>{
    const pts=polyPoints(cfg,[k-0.55,k,k+0.55],[750,tops[i],750]);
    const p=mk(group,'polygon',{points:pts,fill:tracerColor(values[i])});
    
    
  });
}
function drawStreaks(group,cfg,xs,bots,tops,vals,wide){
  xs.forEach((k,i)=>{
    const v=vals[i];
    const w=v>=0.6?(wide?7:6):(v>=0.3?(wide?5:5):4);
    const l=mk(group,'line',{x1:cfg.xs(k),x2:cfg.xs(k),y1:cfg.ys(bots[i]),y2:cfg.ys(tops[i]),stroke:waterColor(v),'stroke-width':w,'stroke-linecap':'round'});
    
    
  });
}

const secC={L:227,R:1183,xs:k=>226+9.95*k,yLabelX:201,majorLen:14,minorLen:7,fs:46,yTicks:heightTicks,minorY:minorZ};
const secD={L:1721,R:2676,xs:k=>1720+9.93*k,yLabelX:1693,majorLen:14,minorLen:7,fs:46,yTicks:heightTicks,minorY:minorZ};

(function(){
  const g=document.getElementById('panelC');
  const cfg=Object.assign({},secC,{T:1288.5,B:1773,xLabelY:1840,ys:z=>1288.5+(4000-z)*0.1225});
  const clip=mk(g,'g',{'clip-path':'url(#clipC)'});
  
  
  const bg=mk(clip,'rect',{x:cfg.L-20,y:cfg.T-20,width:cfg.R-cfg.L+40,height:cfg.B-cfg.T+40,fill:tracerColors[0]});
  
  
  const f=mk(clip,'g',{filter:'url(#roughC)'});
  drawPatch(f,cfg,cLayerFringeX,cLayerFringeZ,25);
  drawPatch(f,cfg,cPlumeOuterX,cPlumeOuterZ,42);
  drawPatch(f,cfg,cPlumeMidX,cPlumeMidZ,55);
  drawPatch(f,cfg,cPlumeCoreX,cPlumeCoreZ,65);
  [[cTop10,15],[cTop20,25],[cTop30,32],[cTop35,37],[cTop40,45],[cTop50,55],[cTop60,65],[cTop70,75],[cTop80,85]].forEach(pair=>drawLayer(f,cfg,pair[0],pair[1]));
  drawPatch(f,cfg,cLayerPaleX,cLayerPaleZ,42);
  drawPatch(f,cfg,cPatchMidX,cPatchMidZ,25);
  drawPatch(f,cfg,cPatchHoleX,cPatchHoleZ,32);
  drawPatch(f,cfg,cPatchPaleX,cPatchPaleZ,42);
  drawStripes(f,cfg,cStripeValue,cStripeTop);
  drawPatch(f,cfg,cPatchRedX,cPatchRedZ,105);
  drawSpikes(f,cfg,cSpikeX,cSpikeTop,cSpikeValue);
  axes(g,cfg);
  colorbar(g,1226,1264,1288,1773,tracerColors,tracerLabelsC,1272,44,-6,false);
})();

(function(){
  const g=document.getElementById('panelD');
  const cfg=Object.assign({},secD,{T:1288.5,B:1773,xLabelY:1840,ys:z=>1288.5+(4000-z)*0.1225});
  const clip=mk(g,'g',{'clip-path':'url(#clipD)'});
  
  
  const bg=mk(clip,'rect',{x:cfg.L-20,y:cfg.T-20,width:cfg.R-cfg.L+40,height:cfg.B-cfg.T+40,fill:tracerColors[0]});
  
  
  const f=mk(clip,'g',{filter:'url(#roughC)'});
  [[dTop10,15],[dTop20,25],[dTop30,32],[dTop35,37],[dTop40,45],[dTop50,55],[dTop60,65],[dTop70,75],[dTop80,85]].forEach(pair=>drawLayer(f,cfg,pair[0],pair[1]));
  drawPatch(f,cfg,dBlobX,dBlobZ,65);
  drawPatch(f,cfg,dCreamLeftX,dCreamLeftZ,55);
  drawPatch(f,cfg,dCreamRightX,dCreamRightZ,55);
  drawPatch(f,cfg,dGoldX,dGoldZ,75);
  drawPatch(f,cfg,dCreamX,dCreamZ,55);
  drawStripes(f,cfg,dStripeValue,dStripeTop);
  drawSpikes(f,cfg,dSpikeX,dSpikeTop,dSpikeValue);
  axes(g,cfg);
  colorbar(g,2719,2757,1288,1773,tracerColors,tracerLabelsD,2766,44,-6,false);
})();

(function(){
  const g=document.getElementById('panelE');
  const cfg=Object.assign({},secC,{T:1943.3,B:2428,xLabelY:2496,ys:z=>1943.3+(4000-z)*0.1225});
  const clip=mk(g,'g',{'clip-path':'url(#clipE)',filter:'url(#soft)'});
  
  
  drawStreaks(clip,cfg,eStreakX,eStreakBottom,eStreakTop,eStreakValue,false);
  axes(g,cfg);
  colorbar(g,1226,1264,1943,2428,waterColors,waterLabelsE,1272,44,-6,true);
})();

(function(){
  const g=document.getElementById('panelF');
  const cfg=Object.assign({},secD,{T:1943.3,B:2428,xLabelY:2496,ys:z=>1943.3+(4000-z)*0.1225});
  const clip=mk(g,'g',{'clip-path':'url(#clipF)'});
  
  
  const envGroup=mk(clip,'g',{filter:'url(#softEnv)','fill-opacity':0.75});
  const env=mk(envGroup,'polygon',{points:polyPoints(cfg,fEnvelopeX,fEnvelopeZ),fill:waterColor(0.03)});
  
  
  const env2=mk(envGroup,'polygon',{points:polyPoints(cfg,fEnvelope2X,fEnvelope2Z),fill:waterColor(0.03)});
  
  
  const lines=mk(clip,'g',{filter:'url(#softF)'});
  drawStreaks(lines,cfg,fStreakX,fStreakBottom,fStreakTop,fStreakValue,true);
  axes(g,cfg);
  colorbar(g,2719,2757,1943,2428,waterColors,waterLabelsF,2766,44,-6,true);
})();

// keep annotations above the panels
const fig=document.getElementById('fig');
fig.appendChild(document.getElementById('overlay'));
</script>
</body>
</html>
